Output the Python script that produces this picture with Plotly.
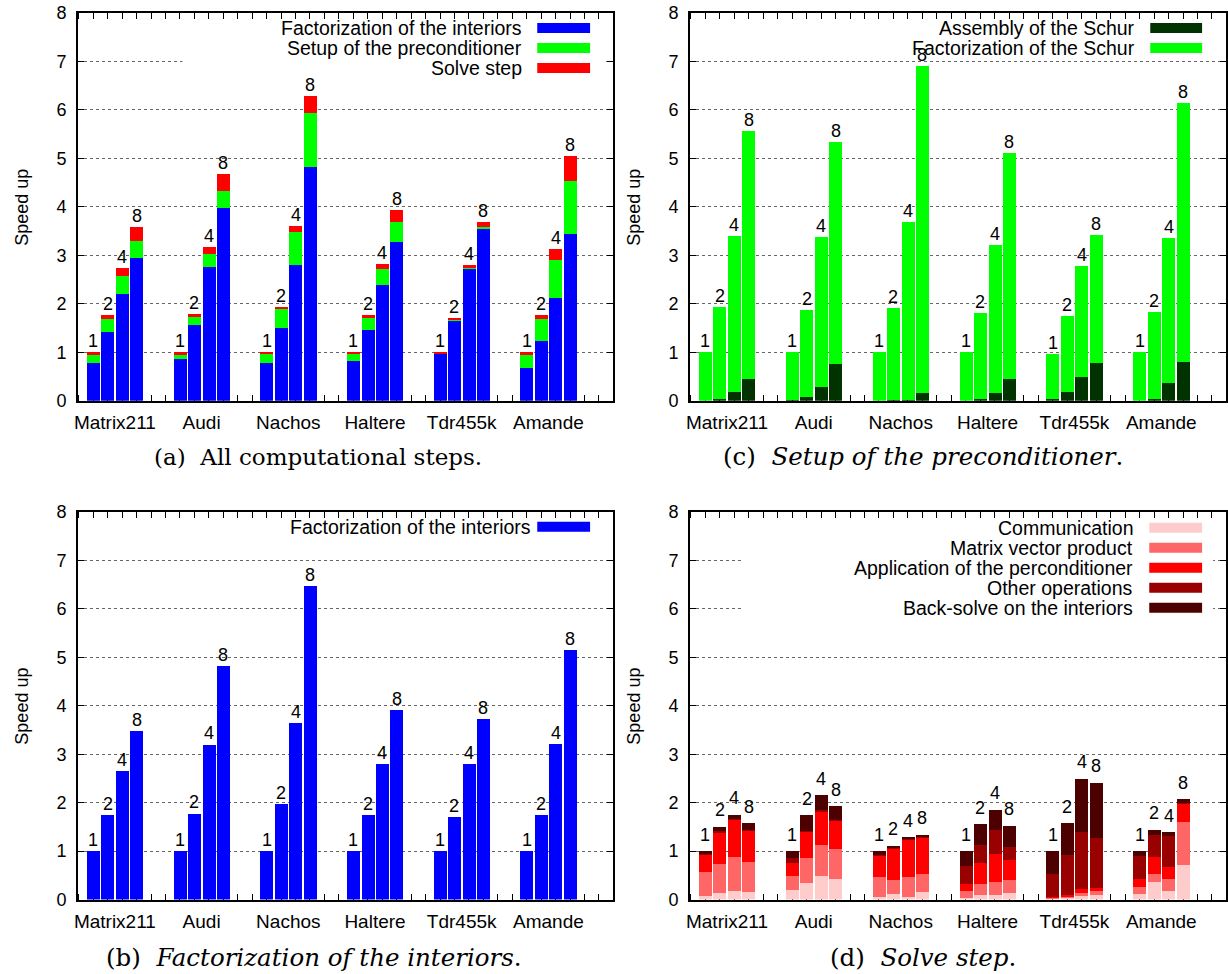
import plotly.graph_objects as go

W, H = 1228, 974
# The captured picture shows the page with a 10 px band above it and a slight
# vertical squeeze; reference pixel rows are mapped back through that.
TOP_BAND = 10
SQUEEZE = 0.97988

# ---------------- data ----------------
datasets = ["Matrix211", "Audi", "Nachos", "Haltere", "Tdr455k", "Amande"]
procs = ["1", "2", "4", "8"]

# (a) all computational steps (stacked segments, per dataset x 4 proc counts)
a_factor = [0.78, 1.42, 2.21, 2.95, 0.87, 1.57, 2.76, 3.98, 0.78, 1.50, 2.80, 4.82,
            0.82, 1.46, 2.39, 3.28, 0.97, 1.65, 2.72, 3.54, 0.68, 1.24, 2.13, 3.44]
a_setup = [0.17, 0.26, 0.37, 0.35, 0.08, 0.16, 0.27, 0.35, 0.195, 0.39, 0.68, 1.11,
           0.15, 0.25, 0.33, 0.41, 0.01, 0.02, 0.03, 0.05, 0.27, 0.45, 0.78, 1.09]
a_solve = [0.05, 0.10, 0.15, 0.29, 0.05, 0.06, 0.14, 0.35, 0.025, 0.05, 0.13, 0.35,
           0.03, 0.06, 0.10, 0.25, 0.02, 0.04, 0.05, 0.10, 0.05, 0.09, 0.22, 0.52]

# (c) setup of the preconditioner
c_assembly = [0.0, 0.04, 0.185, 0.45, 0.02, 0.08, 0.29, 0.76, 0.0, 0.01, 0.02, 0.165,
              0.0, 0.04, 0.165, 0.45, 0.04, 0.185, 0.49, 0.78, 0.0, 0.04, 0.37, 0.81]
c_factor = [1.0, 1.90, 3.215, 5.11, 0.98, 1.795, 3.09, 4.58, 1.0, 1.91, 3.67, 6.735,
            1.0, 1.77, 3.045, 4.66, 0.935, 1.575, 2.29, 2.64, 1.0, 1.79, 2.99, 5.33]

# (b) factorization of the interiors
b_factor = [1.0, 1.75, 2.65, 3.48, 1.0, 1.78, 3.20, 4.82, 1.0, 1.97, 3.65, 6.47,
            1.0, 1.75, 2.80, 3.92, 1.0, 1.70, 2.80, 3.72, 1.0, 1.75, 3.22, 5.15]

# (d) solve step
d_comm = [0.08, 0.145, 0.19, 0.165, 0.21, 0.35, 0.50, 0.43, 0.06, 0.12, 0.06, 0.165,
          0.04, 0.10, 0.10, 0.145, 0.02, 0.04, 0.08, 0.10, 0.12, 0.37, 0.19, 0.72]
d_matvec = [0.50, 0.60, 0.70, 0.625, 0.29, 0.52, 0.64, 0.625, 0.42, 0.29, 0.42, 0.375,
            0.15, 0.23, 0.27, 0.265, 0.02, 0.02, 0.065, 0.09, 0.15, 0.17, 0.24, 0.89]
d_precond = [0.35, 0.645, 0.77, 0.64, 0.27, 0.54, 0.69, 0.575, 0.43, 0.645, 0.76, 0.74,
             0.14, 0.44, 0.58, 0.42, 0.01, 0.04, 0.085, 0.06, 0.16, 0.35, 0.25, 0.38]
d_other = [0.02, 0.03, 0.01, 0.01, 0.085, 0.02, 0.02, 0.01, 0.02, 0.015, 0.02, 0.01,
           0.37, 0.37, 0.50, 0.27, 0.49, 0.83, 1.16, 1.03, 0.48, 0.45, 0.64, 0.01]
d_backsolve = [0.05, 0.09, 0.09, 0.14, 0.145, 0.31, 0.31, 0.30, 0.07, 0.05, 0.04, 0.055,
               0.30, 0.43, 0.41, 0.43, 0.46, 0.66, 1.11, 1.14, 0.09, 0.11, 0.07, 0.07]

# ---------------- helpers ----------------
def px(x):
    return x / W


def py(y):
    return 1 - ((y - TOP_BAND) / SQUEEZE) / H


positions = [6 * g + k + 1 for g in range(len(datasets)) for k in range(len(procs))]
centers = [6 * g + 2.5 for g in range(len(datasets))]
labels = [procs[k] for g in range(len(datasets)) for k in range(len(procs))]

FONT = "Liberation Sans, Arial, sans-serif"
SERIF = "DejaVu Serif, Liberation Serif, serif"

panels = {
    "a": dict(xa="x", ya="y", xdom=(74, 611), ydom=(13, 401)),
    "c": dict(xa="x2", ya="y2", xdom=(688, 1226), ydom=(13, 401)),
    "b": dict(xa="x3", ya="y3", xdom=(74, 611), ydom=(512, 900)),
    "d": dict(xa="x4", ya="y4", xdom=(688, 1226), ydom=(512, 900)),
}

series = {
    "a": [("Factorization of the interiors", a_factor, "#0000ff"),
          ("Setup of the preconditioner", a_setup, "#00ff00"),
          ("Solve step", a_solve, "#ff0000")],
    "c": [("Assembly of the Schur", c_assembly, "#003300"),
          ("Factorization of the Schur", c_factor, "#00ff00")],
    "b": [("Factorization of the interiors", b_factor, "#0000ff")],
    "d": [("Communication", d_comm, "#ffcccc"),
          ("Matrix vector product", d_matvec, "#ff6666"),
          ("Application of the perconditioner", d_precond, "#ff0000"),
          ("Other operations", d_other, "#990000"),
          ("Back-solve on the interiors", d_backsolve, "#4d0000")],
}

legend_geom = {
    "a": dict(text_right=522, sw=(535, 588), y0=28, box=(179, 19, 602, 78)),
    "c": dict(text_right=1137, sw=(1150, 1202), y0=28, box=None),
    "b": dict(text_right=531, sw=(535, 588), y0=527, box=None),
    "d": dict(text_right=1135, sw=(1149, 1202), y0=528, box=(742, 519, 1213, 617)),
}

label_shift = {"a": -1, "c": -1, "b": -1, "d": 4}

fig = go.Figure()
annotations = []
shapes = []

for key, p in panels.items():
    totals = [0.0] * len(positions)
    for name, vals, color in series[key]:
        fig.add_trace(go.Bar(
            x=positions, y=vals, width=0.9, marker_color=color,
            marker_line_width=0, xaxis=p["xa"], yaxis=p["ya"],
            name=name, showlegend=False, hoverinfo="skip"))
        totals = [t + v for t, v in zip(totals, vals)]
    for xpos, tot, lab in zip(positions, totals, labels):
        annotations.append(dict(
            x=xpos, y=tot, xref=p["xa"], yref=p["ya"], text=lab,
            showarrow=False, yanchor="bottom", xanchor="center",
            yshift=label_shift[key], font=dict(family=FONT, size=18, color="black")))

    # legend (gnuplot style: text left, swatch right)
    lg = legend_geom[key]
    if lg["box"] is not None:
        bx0, by0, bx1, by1 = lg["box"]
        shapes.append(dict(type="rect", xref="paper", yref="paper",
                           x0=px(bx0), x1=px(bx1), y0=py(by1), y1=py(by0),
                           fillcolor="white", line=dict(width=0), layer="above"))
    for i, (name, vals, color) in enumerate(series[key]):
        ry = lg["y0"] + 20 * i
        annotations.append(dict(
            x=px(lg["text_right"]), y=py(ry), xref="paper", yref="paper",
            text=name, showarrow=False, xanchor="right", yanchor="middle",
            font=dict(family=FONT, size=19.5, color="black")))
        shapes.append(dict(type="rect", xref="paper", yref="paper",
                           x0=px(lg["sw"][0]), x1=px(lg["sw"][1]),
                           y0=py(ry + 5), y1=py(ry - 5),
                           fillcolor=color, line=dict(width=0), layer="above"))

    # y axis title
    yc = (p["ydom"][0] + p["ydom"][1]) / 2
    xt = 18 if p["xdom"][0] < 300 else 632
    annotations.append(dict(
        x=px(xt), y=py(yc), xref="paper", yref="paper", text="Speed up",
        textangle=-90, showarrow=False, xanchor="center", yanchor="middle",
        font=dict(family=FONT, size=18, color="black")))

# captions
captions = [
    ("(a)  All computational steps.", 315, 457, 23),
    ("(c)  <i>Setup of the preconditioner</i>.", 922, 457, 24.5),
    ("(b)  <i>Factorization of the interiors</i>.", 311, 958, 24.5),
    ("(d)  <i>Solve step</i>.", 922, 958, 24.5),
]
for text, cx, cy, fs in captions:
    annotations.append(dict(
        x=px(cx), y=py(cy), xref="paper", yref="paper", text=text,
        showarrow=False, xanchor="center", yanchor="middle",
        font=dict(family=SERIF, size=fs, color="black")))

layout = dict(
    width=W, height=H, margin=dict(l=0, r=0, t=0, b=0),
    paper_bgcolor="white", plot_bgcolor="white",
    barmode="stack", bargap=0,
    annotations=annotations, shapes=shapes,
    font=dict(family=FONT, size=18, color="black"),
)

for key, p in panels.items():
    xname = "xaxis" + p["xa"][1:]
    yname = "yaxis" + p["ya"][1:]
    layout[xname] = dict(
        domain=[px(p["xdom"][0]), px(p["xdom"][1])],
        anchor=p["ya"], range=[-0.07, 36.97],
        tickmode="array", tickvals=centers, ticktext=datasets,
        ticks="", showgrid=False, zeroline=False,
        showline=True, linecolor="black", linewidth=1.5, mirror="allticks",
        minor=dict(tickmode="array", tickvals=list(range(0, 38)), ticks="inside",
                   ticklen=6, tickwidth=1, tickcolor="black", showgrid=False),
        tickfont=dict(family=FONT, size=19, color="black"),
        ticklabelstandoff=4,
        layer="below traces",
    )
    layout[yname] = dict(
        domain=[py(p["ydom"][1]), py(p["ydom"][0])],
        anchor=p["xa"], range=[0, 8], dtick=1, tick0=0,
        ticks="inside", ticklen=6, tickwidth=1, tickcolor="black",
        showgrid=True, gridcolor="#666666", griddash="dot", gridwidth=1,
        zeroline=False, showline=True, linecolor="black", linewidth=1.5,
        mirror="allticks", ticklabelstandoff=6,
        tickfont=dict(family=FONT, size=18, color="black"),
    )

fig.update_layout(**layout)
fig.write_html(
    "out.html",
    post_script="document.body.style.margin='0px';document.body.style.overflow='hidden';",
)
